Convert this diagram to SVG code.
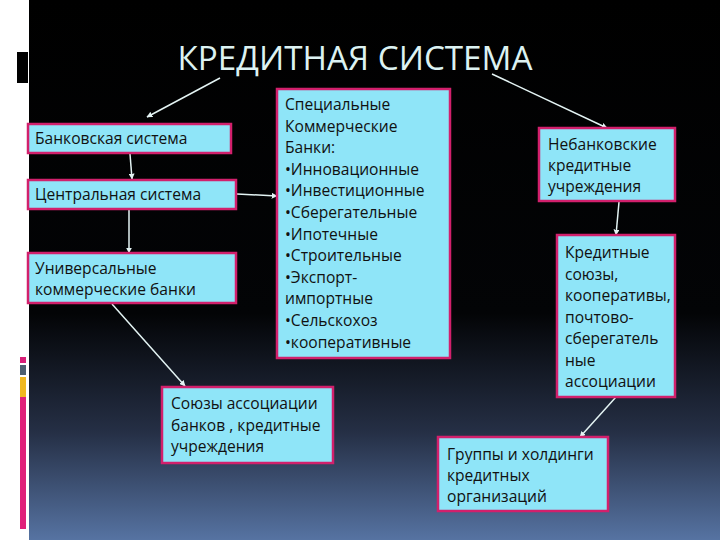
<svg xmlns="http://www.w3.org/2000/svg" width="720" height="540" viewBox="0 0 720 540">
<defs>
<linearGradient id="bg" x1="0" y1="0" x2="0" y2="1">
<stop offset="0" stop-color="#000000"/>
<stop offset="0.58" stop-color="#030406"/>
<stop offset="0.8" stop-color="#252f45"/>
<stop offset="1" stop-color="#5673a2"/>
</linearGradient>
<marker id="arr" viewBox="0 0 10 10" refX="9" refY="5" markerWidth="6" markerHeight="6" orient="auto" markerUnits="userSpaceOnUse">
<path d="M0,0 L10,5 L0,10 z" fill="#e4f4f4"/>
</marker>
<style>
.box{fill:#8fe5f8;stroke:#d2206c;stroke-width:2.5}
.t{font-family:"Open Sans","Noto Sans",sans-serif;font-size:15.6px;fill:#111111}
.c{stroke:#e4f4f4;stroke-width:1.5;fill:none;marker-end:url(#arr)}
</style>
</defs>
<rect x="0" y="0" width="720" height="540" fill="#ffffff"/>
<rect x="29" y="0" width="691" height="540" fill="url(#bg)"/>
<rect x="17" y="52" width="11" height="31" fill="#000000"/>
<rect x="20" y="357" width="6" height="6" fill="#d81f78"/>
<rect x="20" y="365" width="6" height="10" fill="#4d5f70"/>
<rect x="20" y="377" width="6" height="20" fill="#f0b820"/>
<rect x="20" y="397" width="6" height="132" fill="#e0207a"/>
<text x="355" y="70" text-anchor="middle" font-family="'Open Sans','Noto Sans',sans-serif" font-size="33" fill="#dcf2f2" textLength="355" lengthAdjust="spacingAndGlyphs">КРЕДИТНАЯ  СИСТЕМА</text>
<g id="connectors">
<line class="c" x1="220" y1="78" x2="147" y2="117"/>
<line class="c" x1="492" y1="74" x2="607" y2="128"/>
<line class="c" x1="130" y1="154" x2="132" y2="179"/>
<line class="c" x1="129" y1="210" x2="129" y2="253"/>
<line class="c" x1="237" y1="194" x2="277" y2="196"/>
<line class="c" x1="112" y1="304" x2="185" y2="386"/>
<line class="c" x1="619" y1="202" x2="616" y2="235"/>
<line class="c" x1="616" y1="397" x2="580" y2="437"/>
</g>
<g id="bank-system">
<rect class="box" x="28" y="124" width="203" height="29"/>
<text class="t" x="35" y="144">Банковская система</text>
</g>
<g id="central-system">
<rect class="box" x="28" y="180" width="208" height="29"/>
<text class="t" x="35" y="200">Центральная система</text>
</g>
<g id="universal-banks">
<rect class="box" x="28" y="253" width="208" height="50"/>
<text class="t" x="35" y="274">Универсальные</text>
<text class="t" x="35" y="295">коммерческие банки</text>
</g>
<g id="special-banks">
<rect class="box" x="277" y="89" width="173" height="269"/>
<text class="t" x="285" y="110">Специальные</text>
<text class="t" x="285" y="131.6">Коммерческие</text>
<text class="t" x="285" y="153.2">Банки:</text>
<text class="t" x="285" y="174.8">•Инновационные</text>
<text class="t" x="285" y="196.4">•Инвестиционные</text>
<text class="t" x="285" y="218">•Сберегательные</text>
<text class="t" x="285" y="239.6">•Ипотечные</text>
<text class="t" x="285" y="261.2">•Строительные</text>
<text class="t" x="285" y="282.8">•Экспорт-</text>
<text class="t" x="285" y="304.4">импортные</text>
<text class="t" x="285" y="326">•Сельскохоз</text>
<text class="t" x="285" y="347.6">•кооперативные</text>
</g>
<g id="nonbank">
<rect class="box" x="539" y="128" width="136" height="73"/>
<text class="t" x="548" y="150">Небанковские</text>
<text class="t" x="548" y="171">кредитные</text>
<text class="t" x="548" y="192">учреждения</text>
</g>
<g id="credit-unions">
<rect class="box" x="557" y="235" width="118" height="162"/>
<text class="t" x="565" y="258">Кредитные</text>
<text class="t" x="565" y="279.5">союзы,</text>
<text class="t" x="565" y="301">кооперативы,</text>
<text class="t" x="565" y="322.5">почтово-</text>
<text class="t" x="565" y="344">сберегатель</text>
<text class="t" x="565" y="365.5">ные</text>
<text class="t" x="565" y="387">ассоциации</text>
</g>
<g id="bank-unions">
<rect class="box" x="162" y="387" width="171" height="76"/>
<text class="t" x="171" y="409">Союзы ассоциации</text>
<text class="t" x="171" y="430.5">банков , кредитные</text>
<text class="t" x="171" y="452">учреждения</text>
</g>
<g id="groups">
<rect class="box" x="438" y="437" width="170" height="74"/>
<text class="t" x="447" y="460">Группы и холдинги</text>
<text class="t" x="447" y="481">кредитных</text>
<text class="t" x="447" y="502">организаций</text>
</g>
</svg>
